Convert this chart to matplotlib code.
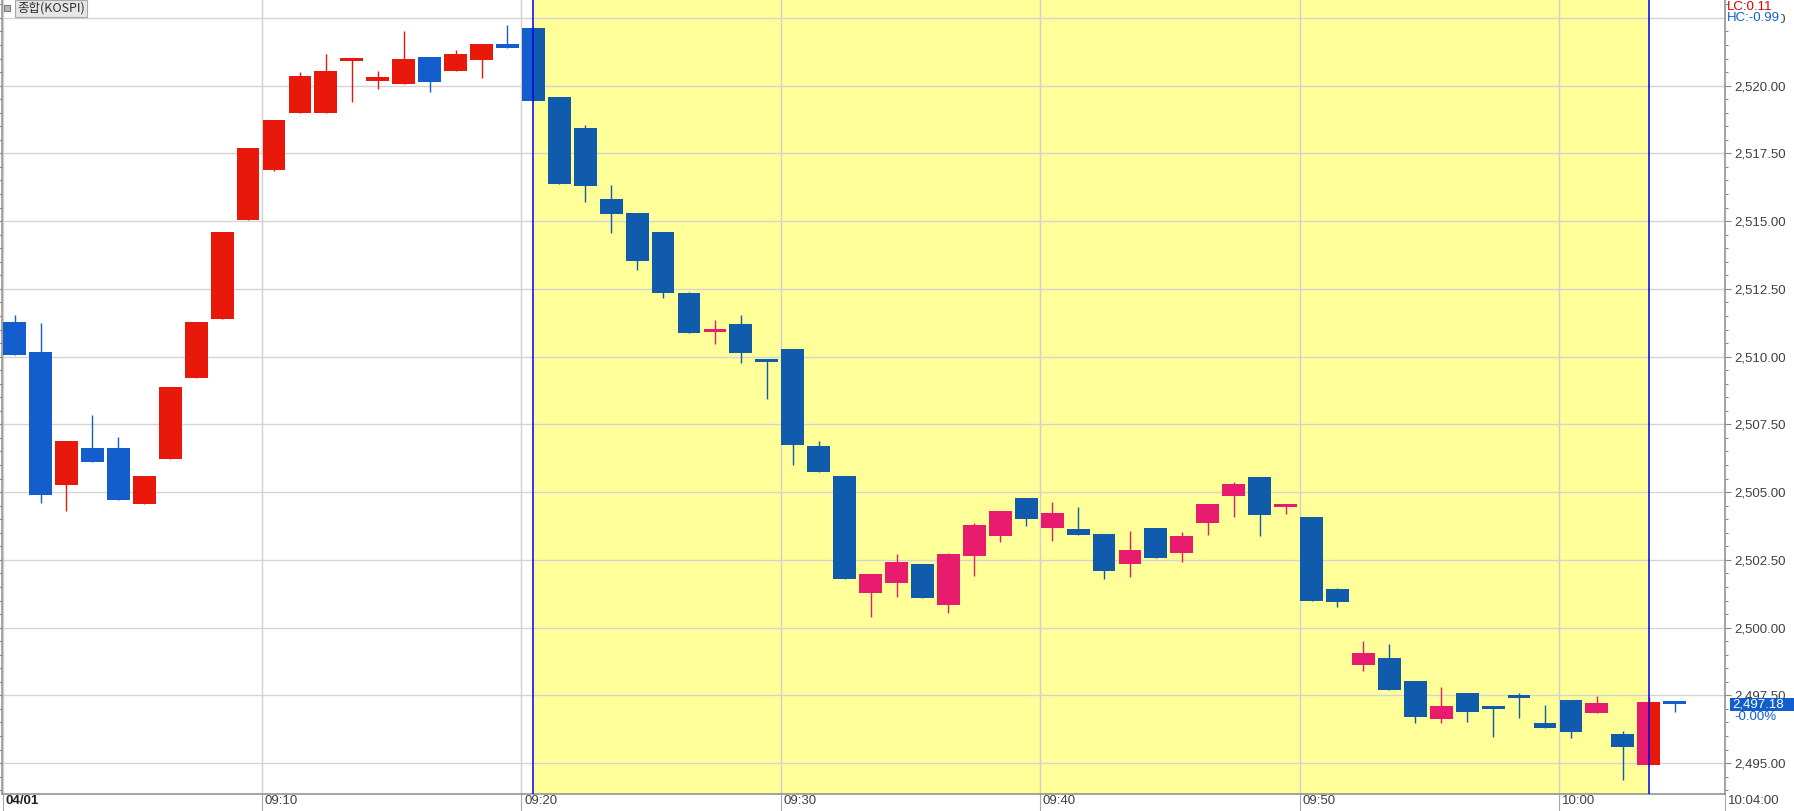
import numpy as np
import matplotlib.pyplot as plt
from matplotlib.patches import Rectangle
from matplotlib.ticker import MultipleLocator, FuncFormatter
from matplotlib.transforms import ScaledTranslation

# KOSPI 1-minute bars, 09:00 .. 10:04 (04/01)
opens = np.array([
    2511.28, 2510.17, 2505.26, 2506.63, 2506.63, 2504.56, 2506.22, 2509.21, 2511.37, 2515.05,
    2516.90, 2519.00, 2519.00, 2520.92, 2520.18, 2520.07, 2521.07, 2520.55, 2520.96, 2521.55,
    2522.11, 2519.59, 2518.45, 2515.81, 2515.30, 2514.60, 2512.34, 2510.90, 2511.20, 2509.84,
    2510.28, 2506.70, 2505.59, 2501.28, 2501.65, 2502.34, 2500.84, 2502.65, 2503.39, 2504.78,
    2503.68, 2503.63, 2503.45, 2502.35, 2503.67, 2502.76, 2503.87, 2504.84, 2505.56, 2504.46,
    2504.09, 2501.41, 2498.62, 2498.87, 2498.03, 2496.63, 2497.59, 2497.11, 2497.51, 2496.48,
    2497.33, 2496.85, 2496.08, 2494.94, 2497.29])
highs = np.array([
    2511.54, 2511.24, 2506.88, 2507.84, 2507.03, 2505.59, 2508.88, 2511.28, 2514.61, 2517.71,
    2518.74, 2520.52, 2521.18, 2521.03, 2520.55, 2522.01, 2521.07, 2521.33, 2521.55, 2522.22,
    2522.11, 2519.59, 2518.56, 2516.33, 2515.30, 2514.60, 2512.38, 2511.35, 2511.53, 2509.84,
    2510.28, 2506.88, 2505.59, 2501.97, 2502.71, 2502.34, 2502.75, 2503.85, 2504.30, 2504.78,
    2504.63, 2504.44, 2503.45, 2503.56, 2503.67, 2503.52, 2504.57, 2505.38, 2505.56, 2504.57,
    2504.09, 2501.45, 2499.50, 2499.39, 2498.03, 2497.81, 2497.59, 2497.11, 2497.59, 2497.14,
    2497.33, 2497.48, 2496.19, 2497.44, 2497.29])
lows = np.array([
    2510.07, 2504.61, 2504.31, 2506.12, 2504.70, 2504.56, 2506.22, 2509.21, 2511.37, 2515.05,
    2516.86, 2519.00, 2519.00, 2519.41, 2519.89, 2520.07, 2519.78, 2520.55, 2520.27, 2521.38,
    2519.42, 2516.38, 2515.71, 2514.57, 2513.21, 2512.17, 2510.88, 2510.47, 2509.77, 2508.44,
    2506.01, 2505.75, 2501.80, 2500.39, 2501.13, 2501.10, 2500.54, 2501.91, 2503.16, 2503.75,
    2503.20, 2503.40, 2501.80, 2501.87, 2502.57, 2502.41, 2503.43, 2504.09, 2503.39, 2504.20,
    2501.00, 2500.75, 2498.39, 2497.70, 2496.48, 2496.48, 2496.52, 2495.97, 2496.67, 2496.30,
    2495.93, 2496.85, 2494.39, 2494.94, 2496.89])
closes = np.array([
    2510.07, 2504.89, 2506.88, 2506.12, 2504.70, 2505.59, 2508.88, 2511.28, 2514.61, 2517.71,
    2518.74, 2520.37, 2520.55, 2521.03, 2520.33, 2521.00, 2520.15, 2521.15, 2521.55, 2521.38,
    2519.42, 2516.38, 2516.31, 2515.27, 2513.54, 2512.36, 2510.88, 2510.94, 2510.14, 2509.80,
    2506.74, 2505.75, 2501.80, 2501.97, 2502.41, 2501.10, 2502.71, 2503.78, 2504.30, 2504.01,
    2504.22, 2503.42, 2502.09, 2502.86, 2502.57, 2503.37, 2504.57, 2505.31, 2504.17, 2504.57,
    2501.00, 2500.93, 2499.06, 2497.70, 2496.70, 2497.11, 2496.89, 2497.00, 2497.40, 2496.30,
    2496.13, 2497.22, 2495.60, 2497.25, 2497.18])

tick_minutes = [0, 10, 20, 30, 40, 50, 60]
tick_labels = ['04/01', '09:10', '09:20', '09:30', '09:40', '09:50', '10:00']
end_label = '10:04:00'
shade_from, shade_to = 20, 63   # highlighted interval (bar index)
lc_text, hc_text = 'LC:0.11', 'HC:-0.99'
change_text = '-0.00%'

W, H = 1794, 811
fig = plt.figure(figsize=(W / 100, H / 100), dpi=100)
ax = fig.add_axes([2 / W, 17 / H, 1723 / W, 794 / H])

x = np.arange(len(opens))
x_left, x_right = -0.486, 65.94
ax.set_xlim(x_left, x_right)
ax.set_ylim(2493.86, 2523.16)

ax.axvspan(shade_from, shade_to, color='#FFFF99', zorder=0, lw=0)


def draw_candles(up_col, down_col, x0, x1):
    clip = Rectangle((x0, 2480), x1 - x0, 60, transform=ax.transData)
    up = closes >= opens
    cols = np.where(up, up_col, down_col)
    bottom = np.minimum(opens, closes)
    height = np.maximum(np.abs(closes - opens), 0.11)
    wicks = ax.vlines(x, lows, highs, colors=cols, linewidth=1.0, zorder=2)
    wicks.set_clip_path(clip)
    bars = ax.bar(x, height, 0.88, bottom, color=cols, zorder=3, linewidth=0)
    for p in bars.patches:
        p.set_clip_path(clip)


draw_candles('#E8190A', '#135ECC', -5, shade_from)
draw_candles('#E8190A', '#135ECC', shade_to, 70)
draw_candles('#E81C6E', '#115BAC', shade_from, shade_to)

for xv in (shade_from, shade_to):
    ax.axvline(xv, color='#0000F0', lw=1.1, zorder=5)

# y axis
ax.yaxis.set_major_locator(MultipleLocator(2.5))
ax.yaxis.set_minor_locator(MultipleLocator(0.5))
ax.yaxis.set_major_formatter(FuncFormatter(lambda v, p: f'{v:,.2f}'))
ax.tick_params(axis='y', which='both', left=True, right=True, labelleft=False,
               labelright=True, direction='out', color='#888888', labelcolor='#404040',
               labelsize=9.5, pad=2)
ax.tick_params(axis='y', which='major', length=4.5, width=0.8)
ax.tick_params(axis='y', which='minor', length=2.5, width=0.8)
for lab in ax.get_yticklabels():
    lab.set_family('Liberation Sans')

# x axis
xpos = [m - 0.46 for m in tick_minutes] + [x_right]
ax.set_xticks(xpos)
ax.set_xticklabels(tick_labels + [end_label])
ax.tick_params(axis='x', length=12.5, width=0.8, pad=-12, direction='out',
               color='#A8A8A8', labelcolor='#404040', labelsize=9.5)
off = ScaledTranslation(2 / 72, 0, fig.dpi_scale_trans)
for i, lab in enumerate(ax.get_xticklabels()):
    lab.set_ha('left')
    lab.set_family('Liberation Sans')
    lab.set_transform(lab.get_transform() + off)
    if i == 0:
        lab.set_color('#202020')
        lab.set_fontweight('bold')

ax.set_axisbelow(True)
ax.grid(axis='y', which='major', color='#D4D4D4', lw=1.0)
ax.grid(axis='x', which='major', color='#D0D0D0', lw=1.0)

for s in ('left', 'right', 'bottom'):
    ax.spines[s].set_color('#8C8C8C')
    ax.spines[s].set_linewidth(1.1)
ax.spines['top'].set_visible(False)

# current price tag
last = closes[-1]
ytr = ax.get_yaxis_transform()
ax.add_patch(Rectangle((1 + 5 / 1723, last - 0.24), 70 / 1723, 0.48, transform=ytr,
                       facecolor='#135ECC', lw=0, clip_on=False, zorder=6))
ax.text(1 + 7 / 1723, last, f'{last:,.2f}', transform=ytr, color='white', fontsize=9.5,
        family='Liberation Sans', va='center', ha='left', zorder=7, clip_on=False)
ax.text(1 + 9 / 1723, last - 0.47, change_text, transform=ytr, color='#1060D0',
        fontsize=9.5, family='Liberation Sans', va='center', ha='left', clip_on=False)

# top-right LC / HC
fig.text(1727 / W, 1 - 1 / H, lc_text, color='#E00000', fontsize=9.5,
         family='Liberation Sans', va='top', ha='left')
fig.text(1727 / W, 1 - 12 / H, hc_text, color='#1060D0', fontsize=9.5,
         family='Liberation Sans', va='top', ha='left',
         bbox=dict(facecolor='white', edgecolor='none', pad=0.5))

# title tag
fig.patches.append(Rectangle((4 / W, 1 - 11 / H), 6 / W, 6 / H, transform=fig.transFigure,
                             facecolor='#B8B8B8', edgecolor='#7C7C7C', lw=0.8))
fig.text(17 / W, 1 - 8.5 / H, '종합(KOSPI)', color='#303030', fontsize=9,
         family=['Noto Sans CJK KR', 'DejaVu Sans'], va='center', ha='left',
         bbox=dict(boxstyle='square,pad=0.15', facecolor='#E6E6E6', edgecolor='#A8A8A8', lw=0.8))

fig.savefig('out.png', dpi=100, facecolor='white')
